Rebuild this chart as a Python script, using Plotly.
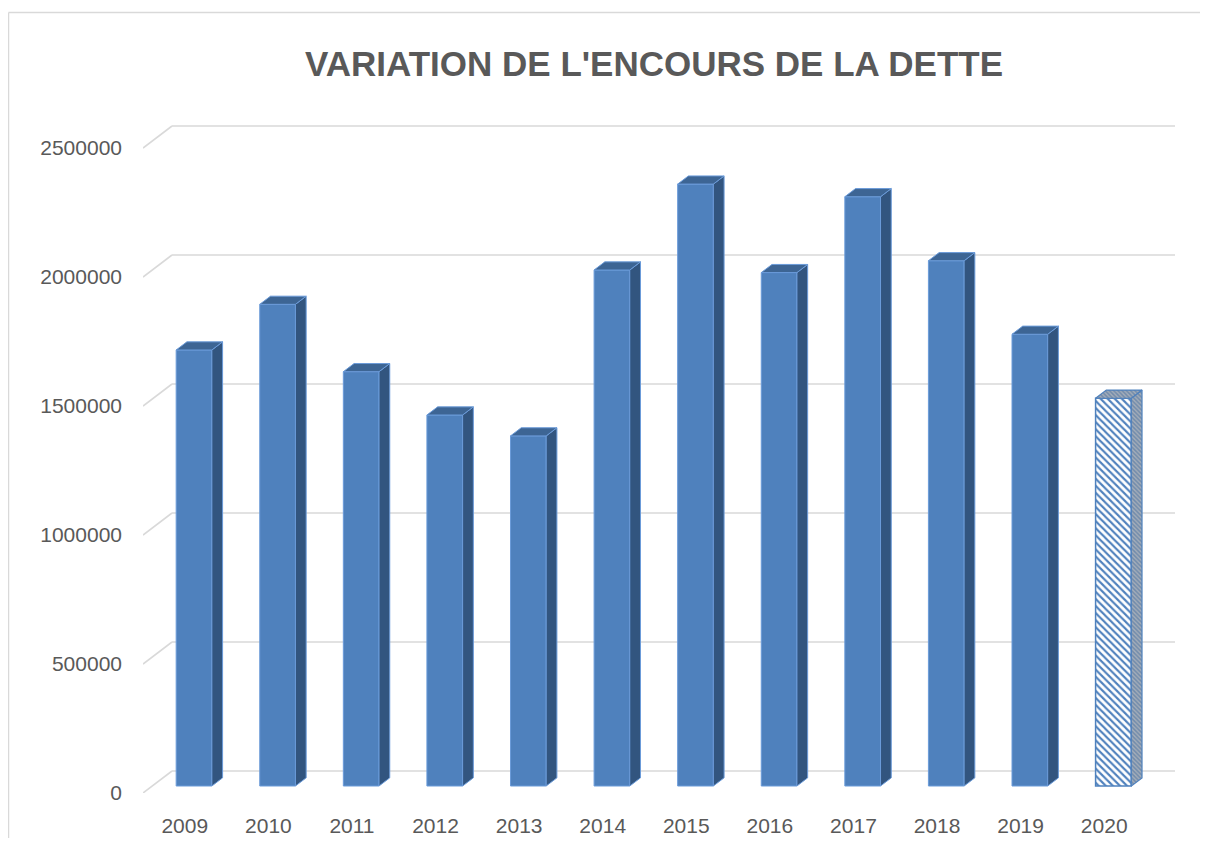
import plotly.graph_objects as go

# ---------------- data ----------------
years = ["2009", "2010", "2011", "2012", "2013", "2014",
         "2015", "2016", "2017", "2018", "2019", "2020"]
values = [1690000, 1867000, 1606000, 1438000, 1357000, 2000000,
          2333000, 1990000, 2284000, 2036000, 1751000, 1503000]
hatched = [False] * 11 + [True]          # 2020 drawn with a hatched fill
y_ticks = [0, 500000, 1000000, 1500000, 2000000, 2500000]
y_tick_labels = ["0", "500000", "1000000", "1500000", "2000000", "2500000"]
title_text = "VARIATION DE L'ENCOURS DE LA DETTE"

# ---------------- geometry (3-D oblique look) ----------------
OFF = 8                      # default page body margin
W, H = 1208 - 2 * OFF, 852 - 2 * OFF - 6
L, R, T = 143 - OFF, 33 - OFF, 120 - OFF
B = H - T - 673
plot_w, plot_h = W - L - R, H - T - B
n = len(years)
depth_px_x, depth_px_y = 29, 22
px_per_cat = (plot_w - depth_px_x) / n
Dx = depth_px_x / px_per_cat
val_per_px = 2500000 / 645.0
Dy = depth_px_y * val_per_px
x_min, x_max = -0.5, n - 0.5 + Dx
y_max = plot_h * val_per_px
bw = 0.427
d0, d1 = 0.318, 0.688

GRID = "#d9d9d9"
TXT = "#595959"
FRONT = "#4f81bd"
SIDE = "#32557f"
TOP = "#3d6594"
EDGE = "#6b9bd9"

fig = go.Figure()

# gridlines (behind everything): side-wall diagonal + back-wall horizontal
for v in y_ticks:
    fig.add_shape(type="line", xref="x", yref="y", layer="below",
                  x0=x_min, y0=v, x1=x_min + Dx, y1=v + Dy,
                  line=dict(color=GRID, width=1.6))
    fig.add_shape(type="line", xref="x", yref="y", layer="below",
                  x0=x_min + Dx, y0=v + Dy, x1=x_max, y1=v + Dy,
                  line=dict(color=GRID, width=1.6))


def faces(idx):
    sx, sy, tx, ty = [], [], [], []
    for i in idx:
        v = values[i]
        xl0 = i - bw / 2 + d0 * Dx
        xr0 = i + bw / 2 + d0 * Dx
        xl1 = i - bw / 2 + d1 * Dx
        xr1 = i + bw / 2 + d1 * Dx
        sx += [xr0, xr0, xr1, xr1, xr0, None]
        sy += [d0 * Dy, v + d0 * Dy, v + d1 * Dy, d1 * Dy, d0 * Dy, None]
        tx += [xl0, xr0, xr1, xl1, xl0, None]
        ty += [v + d0 * Dy, v + d0 * Dy, v + d1 * Dy, v + d1 * Dy, v + d0 * Dy, None]
    return sx, sy, tx, ty


solid = [i for i in range(n) if not hatched[i]]
hat = [i for i in range(n) if hatched[i]]

# solid bars
sx, sy, tx, ty = faces(solid)
fig.add_trace(go.Bar(x=[i + d0 * Dx for i in solid], y=[values[i] for i in solid],
                     base=d0 * Dy, width=bw,
                     marker=dict(color=FRONT, line=dict(color=EDGE, width=1)),
                     hoverinfo="skip", showlegend=False))
fig.add_trace(go.Scatter(x=sx, y=sy, mode="lines", fill="toself", fillcolor=SIDE,
                         line=dict(color=EDGE, width=1), hoverinfo="skip", showlegend=False))
fig.add_trace(go.Scatter(x=tx, y=ty, mode="lines", fill="toself", fillcolor=TOP,
                         line=dict(color=EDGE, width=1), hoverinfo="skip", showlegend=False))

# hatched bar(s)
sx, sy, tx, ty = faces(hat)
fig.add_trace(go.Bar(x=[i + d0 * Dx for i in hat], y=[values[i] for i in hat],
                     base=d0 * Dy, width=bw,
                     marker=dict(color="white", line=dict(color=FRONT, width=1.5),
                                 pattern=dict(shape="\\", fgcolor=FRONT, bgcolor="white",
                                              size=5, solidity=0.42, fillmode="replace")),
                     hoverinfo="skip", showlegend=False))
fig.add_trace(go.Scatter(x=sx, y=sy, mode="lines", fill="toself",
                         fillpattern=dict(shape="\\", fgcolor="#3f6a9e", bgcolor="#a3acb8",
                                          size=3, solidity=0.5),
                         line=dict(color=FRONT, width=1.2), hoverinfo="skip", showlegend=False))
fig.add_trace(go.Scatter(x=tx, y=ty, mode="lines", fill="toself",
                         fillpattern=dict(shape="\\", fgcolor="#3f6a9e", bgcolor="#a3acb8",
                                          size=3, solidity=0.5),
                         line=dict(color=FRONT, width=1.2), hoverinfo="skip", showlegend=False))


# chart border (light grey frame: only top and left edges are visible)
def px2paper_x(px):
    return (px - OFF - L) / plot_w


def px2paper_y(py):
    return (T + plot_h - (py - OFF)) / plot_h


fig.add_shape(type="line", xref="paper", yref="paper", layer="below",
              x0=px2paper_x(8.5), x1=px2paper_x(1208 + 30),
              y0=px2paper_y(12.5), y1=px2paper_y(12.5),
              line=dict(color=GRID, width=1.5))
fig.add_shape(type="line", xref="paper", yref="paper", layer="below",
              x0=px2paper_x(8.5), x1=px2paper_x(8.5),
              y0=px2paper_y(12.5), y1=px2paper_y(852 + 30),
              line=dict(color=GRID, width=1.5))

fig.update_layout(
    width=W, height=H,
    margin=dict(l=L, r=R, t=T, b=B, autoexpand=False),
    paper_bgcolor="white", plot_bgcolor="white",
    title=dict(text="<b>" + title_text + "</b>", x=(654 - OFF) / W, xanchor="center",
               y=1 - (64 - OFF) / H, yanchor="middle", xref="container", yref="container",
               font=dict(family="Liberation Sans, Arial, sans-serif", size=35, color=TXT)),
    font=dict(family="Liberation Sans, Arial, sans-serif", size=21, color=TXT),
    barmode="overlay",
    xaxis=dict(range=[x_min, x_max], tickmode="array", tickvals=list(range(n)),
               ticktext=years, showgrid=False, zeroline=False, showline=False,
               ticks="", ticklabelstandoff=18, fixedrange=True, automargin=False),
    yaxis=dict(range=[0, y_max], tickmode="array", tickvals=y_ticks,
               ticktext=y_tick_labels, showgrid=False, zeroline=False, showline=False,
               ticks="", ticklabelstandoff=20, fixedrange=True, automargin=False),
)

fig.write_html("out.html")
